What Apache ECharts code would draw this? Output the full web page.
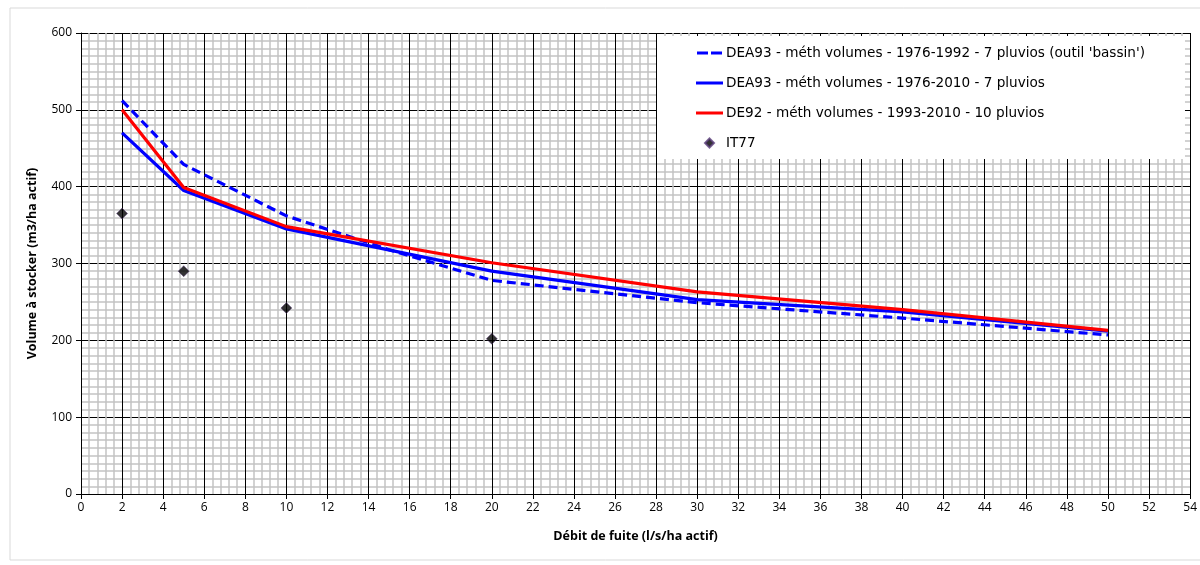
<!DOCTYPE html>
<html>
<head>
<meta charset="utf-8">
<script src="https://cdn.jsdelivr.net/npm/echarts@6/dist/echarts.min.js"></script>
<style>
  html, body { margin: 0; padding: 0; background: #fff; }
  #chart { width: 1200px; height: 565px; }
</style>
</head>
<body>
<div id="chart"></div>
<script>
// noms des séries
const seriesNames = [
  "DEA93 - méth volumes - 1976-1992 - 7 pluvios (outil 'bassin')",
  'DEA93 - méth volumes - 1976-2010 - 7 pluvios',
  'DE92 - méth volumes - 1993-2010 - 10 pluvios',
  'IT77'
]
// débit de fuite (l/s/ha actif) -> volume à stocker (m3/ha actif)
const debitsDEA93a = [2, 5, 10, 15, 20, 30, 40, 50]
const volumesDEA93a = [512, 429, 362, 318, 278, 249, 229, 207]
const debits = [2, 5, 10, 20, 30, 40, 50]
const volumesDEA93b = [470, 395, 345, 290, 253, 237, 212]
const volumesDE92 = [500, 399, 348, 301, 263, 240, 213]
const debitsIT77 = [2, 5, 10, 20]
const volumesIT77 = [365, 290, 242, 202]

const zip = (xs, ys) => xs.map((x, i) => [x, ys[i]])

// icônes de légende (coins minuscules pour garder la boîte 27x9)
const corners = 'M0,0h0.01v0.01h-0.01zM27,9h-0.01v-0.01h0.01z'
const iconLine = 'path://' + corners + 'M0,3h27v3h-27z'
const iconDash = 'path://' + corners + 'M1,3h11v3h-11zM15,3h11v3h-11z'
const iconDiamond = 'path://M4.5,0.5L8.5,4.5L4.5,8.5L0.5,4.5Z'

const font = '"Open Sans", "Liberation Sans", sans-serif'
const chart = echarts.init(document.getElementById('chart'))
const option = {
  animation: false,
  textStyle: { fontFamily: font },
  graphic: [{
    type: 'rect',
    shape: { x: 10, y: 8, width: 1200, height: 552 },
    style: { fill: 'none', stroke: '#d9d9d9', lineWidth: 1 },
    z: -10
  }],
  grid: { left: 81, right: 5, top: 33, bottom: 71 },
  legend: {
    orient: 'vertical',
    left: 657,
    top: 36,
    padding: [10, 40, 9, 39],
    backgroundColor: '#fff',
    itemWidth: 27,
    itemHeight: 9,
    itemGap: 16,
    textStyle: {
      fontFamily: '"DejaVu Sans", sans-serif',
      fontSize: 13.6,
      color: '#000',
      padding: [0, 0, 0, -2]
    },
    data: [
      { name: seriesNames[0], icon: iconDash },
      { name: seriesNames[1], icon: iconLine },
      { name: seriesNames[2], icon: iconLine },
      { name: seriesNames[3], icon: iconDiamond }
    ],
    z: 10
  },
  xAxis: {
    type: 'value',
    min: 0,
    max: 54,
    interval: 2,
    name: 'Débit de fuite (l/s/ha actif)',
    nameLocation: 'middle',
    nameGap: 36,
    nameTextStyle: { fontSize: 12.5, fontWeight: 'bold', color: '#000' },
    axisLine: { lineStyle: { color: '#000', width: 1 } },
    axisTick: { show: true, length: 5, lineStyle: { color: '#000' } },
    axisLabel: { fontSize: 12, color: '#000', margin: 8 },
    splitLine: { show: true, lineStyle: { color: '#000', width: 1 } },
    minorTick: { show: false, splitNumber: 5 },
    minorSplitLine: { show: true, lineStyle: { color: '#c4c4c4', width: 1.5 } }
  },
  yAxis: {
    type: 'value',
    min: 0,
    max: 600,
    interval: 100,
    name: 'Volume à stocker (m3/ha actif)',
    nameLocation: 'middle',
    nameGap: 42,
    nameTextStyle: { fontSize: 12.5, fontWeight: 'bold', color: '#000' },
    axisLine: { show: true, lineStyle: { color: '#000', width: 1 } },
    axisTick: { show: true, length: 5, lineStyle: { color: '#000' } },
    axisLabel: { fontSize: 12, color: '#000', margin: 9 },
    splitLine: { show: true, lineStyle: { color: '#000', width: 1 } },
    minorTick: { show: false, splitNumber: 10 },
    minorSplitLine: { show: true, lineStyle: { color: '#c4c4c4', width: 1.5 } }
  },
  series: [
    {
      name: seriesNames[0],
      type: 'line',
      data: zip(debitsDEA93a, volumesDEA93a),
      symbol: 'none',
      lineStyle: { color: '#0000ff', width: 3.2, type: [9, 5] },
      itemStyle: { color: '#0000ff', borderWidth: 0 },
      z: 3
    },
    {
      name: seriesNames[1],
      type: 'line',
      data: zip(debits, volumesDEA93b),
      symbol: 'none',
      lineStyle: { color: '#0000ff', width: 3.2 },
      itemStyle: { color: '#0000ff', borderWidth: 0 },
      z: 4
    },
    {
      name: seriesNames[2],
      type: 'line',
      data: zip(debits, volumesDE92),
      symbol: 'none',
      lineStyle: { color: '#ff0000', width: 3.2 },
      itemStyle: { color: '#ff0000', borderWidth: 0 },
      z: 5
    },
    {
      name: seriesNames[3],
      type: 'scatter',
      data: zip(debitsIT77, volumesIT77),
      symbol: 'diamond',
      symbolSize: 11,
      itemStyle: { color: '#000', borderColor: '#5a3d7a', borderWidth: 0.6 },
      z: 6
    }
  ]
}
chart.setOption(option)
</script>
</body>
</html>
